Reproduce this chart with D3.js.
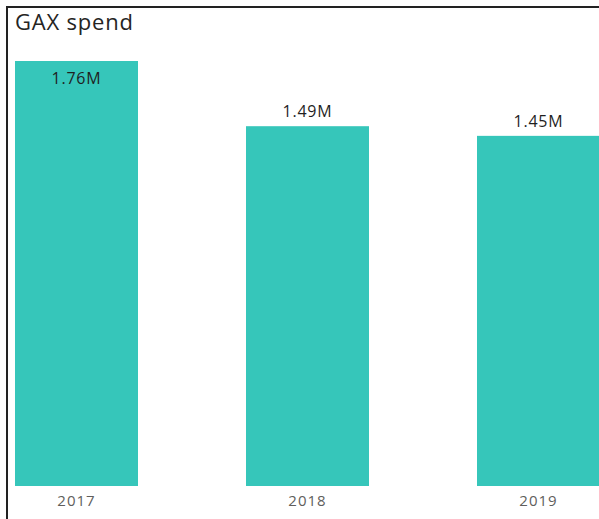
<!DOCTYPE html>
<html>
<head>
<meta charset="utf-8">
<script src="https://cdn.jsdelivr.net/npm/d3@7"></script>
<style>
  html, body { margin: 0; padding: 0; background: #fff; }
  svg { display: block; }
</style>
</head>
<body>
<svg id="chart" width="599" height="519"></svg>
<script>
// GAX spend by year, in millions
const years = ["2017", "2018", "2019"];
const spend = [1.76, 1.49, 1.45];
const valueLabels = ["1.76M", "1.49M", "1.45M"];

const W = 599, H = 519;
const svg = d3.select("#chart");

// Frame lines (left and top)
svg.append("line").attr("x1", 7).attr("x2", 7).attr("y1", 6).attr("y2", H)
  .attr("stroke", "#222").attr("stroke-width", 2);
svg.append("line").attr("x1", 6).attr("x2", W).attr("y1", 7).attr("y2", 7)
  .attr("stroke", "#222").attr("stroke-width", 2);

// Title
svg.append("text")
  .attr("x", 15).attr("y", 30)
  .attr("font-family", "'Open Sans', sans-serif")
  .attr("font-size", 22)
  .attr("letter-spacing", 0.8)
  .attr("fill", "#252423")
  .text("GAX spend");

const x = d3.scaleBand()
  .domain(years)
  .range([15, 600])
  .paddingInner(108 / 231)
  .paddingOuter(0);

const y = d3.scaleLinear()
  .domain([0, 1.76])
  .range([486, 61]);

// Bars
svg.append("g").selectAll("rect")
  .data(years)
  .join("rect")
  .attr("x", d => x(d))
  .attr("width", x.bandwidth())
  .attr("y", (d, i) => y(spend[i]))
  .attr("height", (d, i) => y(0) - y(spend[i]))
  .attr("fill", "#36C6BA");

// Value labels: inside the bar top when no room above, otherwise above it
svg.append("g").selectAll("text")
  .data(years)
  .join("text")
  .attr("x", d => x(d) + x.bandwidth() / 2)
  .attr("y", (d, i) => {
    const top = y(spend[i]);
    return top - 30 < 50 ? top + 23 : top - 9;
  })
  .attr("text-anchor", "middle")
  .attr("font-family", "'Open Sans', sans-serif")
  .attr("font-size", 16)
  .attr("font-weight", 500)
  .attr("letter-spacing", 0.8)
  .attr("fill", "#1f1f1f")
  .text((d, i) => valueLabels[i]);

// X axis
const xAxis = svg.append("g")
  .attr("transform", "translate(0,486)")
  .call(d3.axisBottom(x).tickSize(0).tickPadding(20));
xAxis.select(".domain").remove();
xAxis.selectAll("text")
  .attr("dy", 0)
  .attr("font-family", "'Open Sans', sans-serif")
  .attr("font-size", 15)
  .attr("letter-spacing", 1)
  .attr("fill", "#605E5C");
</script>
</body>
</html>
